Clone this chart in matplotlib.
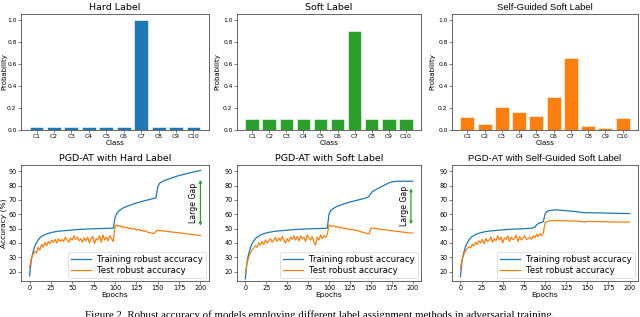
import numpy as np
import matplotlib
matplotlib.use("Agg")
import matplotlib.pyplot as plt

# ---- label distributions (top row) ----
classes = ["C1", "C2", "C3", "C4", "C5", "C6", "C7", "C8", "C9", "C10"]
hard_label = [0.03, 0.03, 0.03, 0.03, 0.03, 0.03, 1.0, 0.03, 0.03, 0.03]
soft_label = [0.1, 0.1, 0.1, 0.1, 0.1, 0.1, 0.9, 0.1, 0.1, 0.1]
self_guided_label = [0.12, 0.05, 0.21, 0.16, 0.13, 0.30, 0.65, 0.04, 0.02, 0.11]

# ---- robust accuracy curves (bottom row), every 2 epochs from 0 to 200 ----
epochs = list(range(0, 201, 2))

hard_train = [17, 28, 33.5, 37.5, 40, 42, 43.5, 44.5, 45.2, 45.8,
              46.3, 46.7, 47, 47.3, 47.6, 47.8, 48, 48.2, 48.3, 48.4,
              48.5, 48.6, 48.7, 48.8, 48.9, 49, 49.1, 49.2, 49.3, 49.4,
              49.5, 49.5, 49.6, 49.7, 49.7, 49.8, 49.8, 49.9, 49.9, 50,
              50, 50, 50.1, 50.1, 50.1, 50.2, 50.2, 50.2, 50.3, 50.3,
              57.5, 60.5, 62, 63, 63.8, 64.5, 65, 65.5, 66, 66.4,
              66.8, 67.2, 67.6, 68, 68.3, 68.6, 69, 69.3, 69.6, 69.9,
              70.2, 70.5, 70.8, 71.1, 71.5, 79, 81.5, 82.3, 83, 83.5,
              84, 84.4, 84.8, 85.2, 85.6, 86, 86.4, 86.8, 87.1, 87.4,
              87.7, 88, 88.3, 88.6, 88.9, 89.2, 89.5, 89.7, 90, 90.2,
              90.5]
hard_test = [23, 29, 32, 34, 33, 37, 35, 39, 37, 40.5,
             38, 41, 39.5, 42, 40.5, 42.5, 40, 43, 41, 42.5,
             41, 44, 42, 40.5, 43.5, 42, 45, 42.5, 44, 41.5,
             43, 40.5, 43.5, 41.5, 44, 40, 43, 44.5, 39.5, 43,
             42, 45, 40.5, 45.5, 42, 44, 41.5, 45, 43, 41,
             52, 52.5, 51.5, 52, 51, 51.5, 50.5, 51, 50, 50.5,
             49.5, 50, 49.5, 49, 49.5, 48.5, 48.8, 48, 48.5, 47.5,
             47.2, 47, 46.5, 46.8, 48, 49, 48.5, 48.8, 48.2, 48.4,
             48, 48.1, 47.7, 47.8, 47.4, 47.5, 47.1, 47.2, 46.9, 46.8,
             46.6, 46.5, 46.3, 46.2, 46, 45.9, 45.8, 45.6, 45.4, 45.3,
             45.2]

soft_train = [15, 27, 32.5, 36.5, 39.5, 41.5, 43, 44, 44.8, 45.5,
              46, 46.4, 46.8, 47.1, 47.4, 47.6, 47.8, 48, 48.2, 48.3,
              48.4, 48.5, 48.6, 48.7, 48.8, 48.9, 49, 49.1, 49.2, 49.3,
              49.4, 49.4, 49.5, 49.6, 49.6, 49.7, 49.7, 49.8, 49.8, 49.9,
              49.9, 50, 50, 50, 50.1, 50.1, 50.1, 50.2, 50.2, 50.3,
              60, 62.5, 63.5, 64.3, 65, 65.5, 66, 66.4, 66.8, 67.2,
              67.6, 68, 68.3, 68.6, 68.9, 69.2, 69.5, 69.8, 70.1, 70.4,
              70.7, 71, 71.3, 71.7, 72.5, 74.5, 75.8, 76.5, 77.2, 77.8,
              78.4, 79, 79.6, 80.2, 80.8, 81.4, 81.9, 82.3, 82.6, 82.8,
              82.9, 83, 83, 82.9, 83, 83.1, 83, 82.9, 83, 83,
              83]
soft_test = [19, 26, 30, 33, 35, 36.5, 38, 37, 40, 38.5,
             41, 39, 42, 40, 41.5, 43, 40.5, 42, 44, 41,
             43.5, 41.5, 44.5, 42, 40, 43, 41, 44, 42.5, 45,
             42, 44.5, 41.5, 45, 43, 44, 41, 45.5, 43.5, 42,
             44.5, 40.5, 38.5, 44, 42, 45.5, 43, 45, 44, 46,
             52.5, 52, 51.5, 52, 51, 51.5, 50.5, 51, 50.2, 50.5,
             49.8, 50, 49.5, 49.3, 49.5, 48.8, 49, 48.5, 48.3, 47.8,
             47.5, 47.2, 46.8, 46.5, 46.3, 50, 50.5, 50.2, 50, 49.8,
             49.6, 49.5, 49.3, 49.2, 49, 48.9, 48.7, 48.6, 48.4, 48.3,
             48.2, 48, 47.9, 47.7, 47.6, 47.4, 47.3, 47.1, 47, 46.9,
             47]

self_train = [16.5, 28, 33.5, 37.5, 40, 42, 43.5, 44.5, 45.3, 45.9,
              46.4, 46.8, 47.1, 47.4, 47.7, 47.9, 48.1, 48.3, 48.4, 48.5,
              48.6, 48.7, 48.8, 48.9, 49, 49.1, 49.2, 49.3, 49.4, 49.5,
              49.5, 49.6, 49.7, 49.7, 49.8, 49.8, 49.9, 49.9, 50, 50,
              50.1, 50.2, 50.3, 50.5, 51, 52.5, 53.5, 54, 54.3, 54.8,
              60, 61.8, 62.3, 62.6, 62.8, 63, 63, 63, 62.9, 62.8,
              62.7, 62.6, 62.5, 62.4, 62.3, 62.2, 62.1, 62, 61.9, 61.7,
              61.6, 61.4, 61.2, 61.1, 61, 61.1, 61.1, 61, 61, 61,
              61, 61, 61, 60.9, 60.9, 60.9, 60.8, 60.8, 60.8, 60.7,
              60.7, 60.7, 60.6, 60.6, 60.6, 60.6, 60.5, 60.5, 60.5, 60.5,
              60.5]
self_test = [22, 29, 32, 34.5, 36, 37.5, 36.5, 39, 38, 40.5,
             39, 41.5, 40, 42.5, 39.5, 43, 41, 42, 44, 40.5,
             43, 41.5, 45, 42, 44, 40, 43.5, 42.5, 45, 41,
             44, 42.5, 43, 45.5, 41, 44.5, 42, 43.5, 45, 42.5,
             43, 44, 42.5, 45, 43.5, 46, 44.5, 46.5, 45, 47,
             54, 54.8, 55.2, 55.5, 55.6, 55.5, 55.7, 55.6, 55.5, 55.6,
             55.5, 55.6, 55.4, 55.5, 55.4, 55.3, 55.4, 55.2, 55.3, 55.1,
             55.2, 55, 54.8, 54.6, 54.7, 55, 55, 54.9, 55, 54.9,
             54.9, 54.8, 54.9, 54.8, 54.8, 54.7, 54.8, 54.7, 54.7, 54.7,
             54.6, 54.7, 54.6, 54.6, 54.6, 54.5, 54.6, 54.5, 54.5, 54.5,
             54.5]

top_titles = ["Hard Label", "Soft Label", "Self-Guided Soft Label"]
bottom_titles = ["PGD-AT with Hard Label", "PGD-AT with Soft Label",
                 "PGD-AT with Self-Guided Soft Label"]
caption = ("Figure 2. Robust accuracy of models employing different label "
           "assignment methods in adversarial training.")

W, H = 640, 317
fig = plt.figure(figsize=(W / 100, H / 100), dpi=100)

def px_axes(l, t, r, b):
    return fig.add_axes([l / W, 1 - b / H, (r - l) / W, (b - t) / H])

def style(ax, size):
    for s in ax.spines.values():
        s.set_linewidth(0.6)
        s.set_color("0.3")
    ax.tick_params(labelsize=size, length=2, width=0.5, pad=1.2, color="0.3")

cols = [(21, 209), (237, 421), (452, 638)]
ylabel_x = [4, 217, 432.5]   # pixel centre of the y labels
bar_data = [hard_label, soft_label, self_guided_label]
bar_colors = ["#1f77b4", "#2ca02c", "#ff7f0e"]
title_fonts = ["DejaVu Sans", "DejaVu Sans", "Liberation Sans"]

# top row: label distributions
for i, (l, r) in enumerate(cols):
    ax = px_axes(l, 14, r, 130)
    ax.bar(range(len(classes)), bar_data[i], color=bar_colors[i],
           edgecolor="white", linewidth=0.4)
    ax.set_xticks(range(len(classes)))
    ax.set_xticklabels(classes)
    ax.set_ylim(0, 1.05)
    ax.set_yticks([0, 0.2, 0.4, 0.6, 0.8, 1.0])
    ax.set_xlabel("Class", fontsize=5.2, labelpad=0.5)
    ax.set_ylabel("Probability", fontsize=5, va="center")
    ax.yaxis.set_label_coords((ylabel_x[i] - l) / (r - l), 0.5)
    ax.set_title(top_titles[i], fontsize=6.8, pad=3, family=title_fonts[i])
    style(ax, 4.3)

# bottom row: robust accuracy
train_curves = [hard_train, soft_train, self_train]
test_curves = [hard_test, soft_test, self_test]
for i, (l, r) in enumerate(cols):
    ax = px_axes(l, 165, r, 281)
    ax.plot(epochs, train_curves[i], color="#1f77b4", lw=0.9,
            label="Training robust accuracy")
    ax.plot(epochs, test_curves[i], color="#ff7f0e", lw=0.9,
            label="Test robust accuracy")
    ax.set_ylim(13.5, 94.3)
    ax.set_xlim(-10, 210)
    ax.set_xticks(range(0, 201, 25))
    ax.set_yticks(range(20, 91, 10))
    ax.set_xlabel("Epochs", fontsize=5.4, labelpad=0.5)
    if i == 0:
        ax.set_ylabel("Accuracy (%)", fontsize=5.4, va="center")
        ax.yaxis.set_label_coords((ylabel_x[i] - l) / (r - l), 0.5)
    ax.set_title(bottom_titles[i], fontsize=6.8, pad=3, family=title_fonts[i])
    leg = ax.legend(loc="lower right", fontsize=6.2, handlelength=2.3,
                    borderpad=0.35, labelspacing=0.25, handletextpad=0.7,
                    borderaxespad=0.35, fancybox=True)
    leg.get_frame().set_linewidth(0.5)
    style(ax, 4.7)
    if i == 0:
        ax.annotate("", xy=(200, 84), xytext=(200, 52),
                    arrowprops=dict(arrowstyle="<->", color="#2ca02c", lw=0.9,
                                    mutation_scale=4, shrinkA=0, shrinkB=0))
        ax.text(192, 68, "Large Gap", rotation=90, fontsize=5.6,
                ha="center", va="center")
    elif i == 1:
        ax.annotate("", xy=(198, 78), xytext=(198, 53),
                    arrowprops=dict(arrowstyle="<->", color="#2ca02c", lw=0.9,
                                    mutation_scale=4, shrinkA=0, shrinkB=0))
        ax.text(190, 65.5, "Large Gap", rotation=90, fontsize=5.6,
                ha="center", va="center")

# caption sits at the bottom edge and is cut off, as in the source figure
fig.text(0.5, 1 - 315 / H, caption, ha="center", va="center",
         fontsize=7.8, family="Liberation Serif")

fig.savefig("out.png", dpi=100)
